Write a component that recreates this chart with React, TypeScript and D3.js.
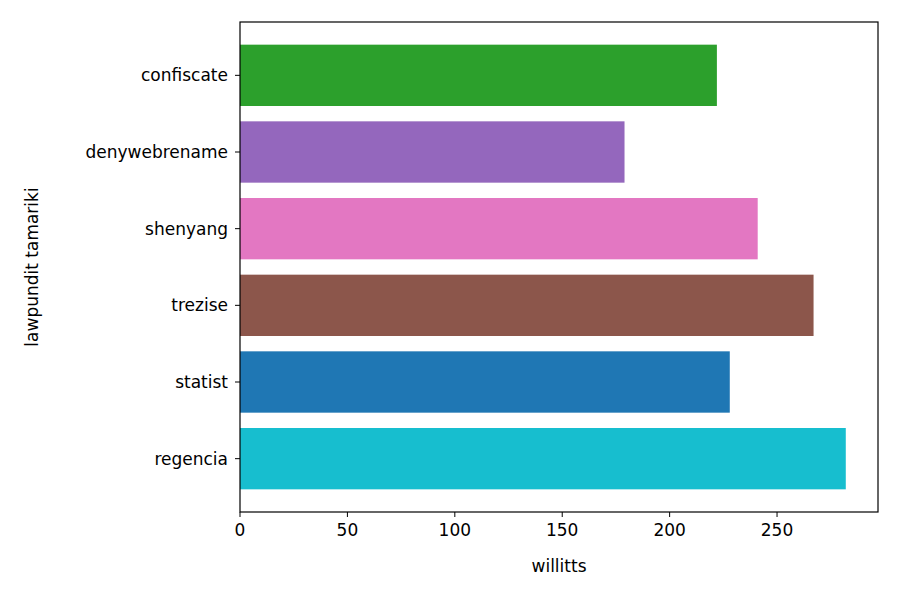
import React from "react";
import * as d3 from "d3";

const categories = ["confiscate", "denywebrename", "shenyang", "trezise", "statist", "regencia"];
const values = [222, 179, 241, 267, 228, 282];
const colors = ["#2ca02c", "#9467bd", "#e377c2", "#8c564b", "#1f77b4", "#17becf"];
const xTicks = [0, 50, 100, 150, 200, 250];

export default function App() {
  const L = 240, R = 878, T = 22, B = 512;
  const x = d3.scaleLinear().domain([0, 297]).range([L, R]);
  const y = d3.scaleBand().domain(categories).range([T + 15, B - 15]).paddingInner(0.2).paddingOuter(0.1);
  const font = "DejaVu Sans";
  return (
    <svg width={900} height={600} style={{ position: "absolute", left: 0, top: 0, background: "#fff" }} fontFamily={font}>
      {categories.map((c, i) => (
        <rect key={c} x={x(0)} y={y(c)} width={x(values[i]) - x(0)} height={y.bandwidth()} fill={colors[i]} />
      ))}
      <rect x={L} y={T} width={R - L} height={B - T} fill="none" stroke="#000" strokeWidth={1.2} />
      {xTicks.map(t => (
        <g key={t}>
          <line x1={x(t)} x2={x(t)} y1={B} y2={B + 5} stroke="#000" />
          <text x={x(t)} y={B + 24} textAnchor="middle" fontSize={17}>{t}</text>
        </g>
      ))}
      {categories.map(c => (
        <g key={c}>
          <line x1={L - 5} x2={L} y1={y(c)! + y.bandwidth() / 2} y2={y(c)! + y.bandwidth() / 2} stroke="#000" />
          <text x={L - 12} y={y(c)! + y.bandwidth() / 2 + 6} textAnchor="end" fontSize={17}>{c}</text>
        </g>
      ))}
      <text x={(L + R) / 2} y={572} textAnchor="middle" fontSize={17}>willitts</text>
      <text transform={`translate(38,${(T + B) / 2}) rotate(-90)`} textAnchor="middle" fontSize={17}>lawpundit tamariki</text>
    </svg>
  );
}
